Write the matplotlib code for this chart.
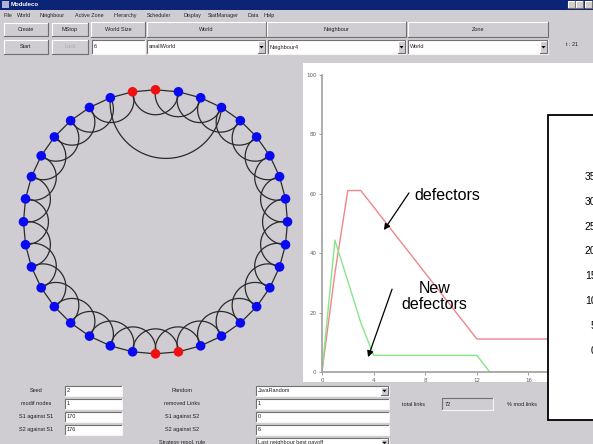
import numpy as np
import matplotlib
matplotlib.use("Agg")
import matplotlib.pyplot as plt
from matplotlib.patches import Rectangle, Polygon

# ---------------- data ----------------
time_steps = list(range(0, 22))
defectors = [0, 33.3, 61.1, 61.1, 55.6, 50.0, 44.4, 38.9, 33.3, 27.8, 22.2,
             16.7, 11.1, 11.1, 11.1, 11.1, 11.1, 11.1, 11.1, 11.1, 11.1, 11.1]
new_defectors = [0, 44.4, 30.6, 16.7, 5.6, 5.6, 5.6, 5.6, 5.6, 5.6, 5.6,
                 5.6, 5.6, 0, 0, 0, 0, 0, 0, 0, 0, 0]
x_ticks = [0, 4, 8, 12, 16, 20]
y_ticks = [0, 20, 40, 60, 80, 100]
inset_ticks = [0, 5, 10, 15, 20, 25, 30, 35]

# network: 36 nodes, index 0 at top, clockwise; D = defector (red)
node_states = "DCCCCCCCCCCCCCCCCDDCCCCCCCCCCCCCCCCD"
neighbour_range = 2
removed_links = [(34, 0)]
added_links = [(34, 3)]

menu_items = ["File", "World", "Neighbour", "Active Zone", "Hierarchy",
              "Scheduler", "Display", "StatManager", "Data", "Help"]

W, H = 593, 444
GRAY = "#cfcdd1"
fig = plt.figure(figsize=(W / 100, H / 100), dpi=100)
fig.patch.set_facecolor(GRAY)

bg = fig.add_axes([0, 0, 1, 1])
bg.set_xlim(0, W)
bg.set_ylim(H, 0)
bg.axis("off")

FONT = "Liberation Sans"
GF = 4.0  # gui font size


def rect(ax, x0, y0, x1, y1, fc, ec="none", lw=0, z=1):
    ax.add_patch(Rectangle((x0, y0), x1 - x0, y1 - y0, fc=fc, ec=ec, lw=lw, zorder=z))


def raised(x0, y0, x1, y1, fc=GRAY):
    rect(bg, x0, y0, x1, y1, fc)
    bg.plot([x0, x0, x1], [y1, y0, y0], color="white", lw=0.8, zorder=2)
    bg.plot([x0, x1, x1], [y1, y1, y0], color="#6f6f6f", lw=0.8, zorder=2)


def sunken(x0, y0, x1, y1, fc="white"):
    rect(bg, x0, y0, x1, y1, fc)
    bg.plot([x0, x0, x1], [y1, y0, y0], color="#707070", lw=0.8, zorder=2)
    bg.plot([x0, x1, x1], [y1, y1, y0], color="#f4f4f4", lw=0.8, zorder=2)


def txt(x, y, s, size=GF, ha="left", color="#202020", **kw):
    bg.text(x, y, s, fontsize=size, ha=ha, va="center", color=color, family=FONT, zorder=5, **kw)


def combo(x0, y0, x1, y1, s):
    sunken(x0, y0, x1, y1)
    raised(x1 - 8, y0 + 1, x1 - 1, y1 - 1)
    cx, cy = (x1 - 4.5), (y0 + y1) / 2
    bg.add_patch(Polygon([[cx - 2, cy - 1], [cx + 2, cy - 1], [cx, cy + 1.5]], fc="black", zorder=4))
    txt(x0 + 2, (y0 + y1) / 2, s)


# ---- title bar & menu ----
rect(bg, 0, 0, W, 10, "#0c2476")
rect(bg, 2, 1.5, 9, 8.5, "#b0b0d8")
txt(11, 5, "Moduleco", size=4.3, color="white", weight="bold")
for i in range(3):
    raised(568 + i * 8.3, 1.5, 575 + i * 8.3, 8.5, fc="#d4d0c8")
menu_x = [3, 17, 40, 75, 113, 147, 183, 208, 247, 264]
for mx, m in zip(menu_x, menu_items):
    txt(mx, 15.5, m, size=3.9)

# ---- top row ----
raised(4, 23, 48, 36)
txt(26, 29.5, "Create", ha="center")
raised(52, 23, 88, 36)
txt(70, 29.5, "MStop", ha="center")
for (a, b, s) in [(91, 145, "World Size"), (147, 266, "World"), (267, 406, "Neighbour"), (408, 548, "Zone")]:
    raised(a, 22, b, 37)
    txt((a + b) / 2, 29.5, s, ha="center")
raised(4, 40, 48, 54)
txt(26, 47, "Start", ha="center")
raised(52, 40, 88, 54)
txt(70, 47, "Lock", ha="center", color="#a8a8a8")
sunken(92, 40, 145, 54)
txt(94, 47, "6")
combo(147, 40, 266, 54, "smallWorld")
combo(268, 40, 406, 54, "Neighbour4")
combo(408, 40, 548, 54, "World")
txt(566, 45, "t : 21")

# ---- ring panel ----
rect(bg, 0, 58, 302, 382, GRAY)
cx, cy, R = 155.5, 221.8, 132.0
n = len(node_states)
ang = np.deg2rad(90 - 360.0 / n * np.arange(n))
px = cx + R * np.cos(ang)
py = cy - R * np.sin(ang)

links = []
for i in range(n):
    for d in range(1, neighbour_range + 1):
        links.append((i, (i + d) % n))
links = [l for l in links if l not in removed_links] + added_links


def draw_link(a, b):
    pa = np.array([px[a], py[a]])
    pb = np.array([px[b], py[b]])
    mid = (pa + pb) / 2
    r = np.linalg.norm(pa - pb) / 2
    u = (pa - mid) / r
    nrm = np.array([-u[1], u[0]])
    if np.dot(nrm, np.array([cx, cy]) - mid) < 0:
        nrm = -nrm
    t = np.linspace(0, np.pi, 60)
    pts = mid[None, :] + r * (np.cos(t)[:, None] * u[None, :] + np.sin(t)[:, None] * nrm[None, :])
    bg.plot(pts[:, 0], pts[:, 1], color="#2a2a2a", lw=0.9, zorder=3)


for (a, b) in links:
    if (b - a) % n == 1 or (a - b) % n == 1:
        bg.plot([px[a], px[b]], [py[a], py[b]], color="#2a2a2a", lw=0.9, zorder=3)
    else:
        draw_link(a, b)

cols = ["#f01010" if s == "D" else "#0a0af0" for s in node_states]
bg.scatter(px, py, s=48, c=cols, zorder=4, linewidths=0)

# ---- chart panel ----
rect(bg, 303, 63, W, 382, "white")

x0p, x1p, y0p, y1p = 322, 593, 372, 75
ax = fig.add_axes([x0p / W, (H - y0p) / H, (x1p - x0p) / W, (y0p - y1p) / H])
ax.patch.set_alpha(0)
ax.set_xlim(0, 21)
ax.set_ylim(0, 100)
for s in ["top", "right"]:
    ax.spines[s].set_visible(False)
for s in ["left", "bottom"]:
    ax.spines[s].set_color("#a0a0a0")
    ax.spines[s].set_linewidth(1.2)
ax.set_xticks(x_ticks)
ax.set_yticks(y_ticks)
ax.tick_params(length=2, width=0.6, color="#909090", labelsize=4, labelcolor="#606060", pad=2)
ax.plot(time_steps, defectors, color="#f0848c", lw=1.0)
ax.plot(time_steps, new_defectors, color="#84e884", lw=1.0)

ax.text(9.7, 59.3, "defectors", fontsize=11.5, family=FONT, ha="center", va="center")
ax.text(8.7, 25.5, "New\ndefectors", fontsize=11.5, family=FONT, ha="center", va="center",
        multialignment="center", linespacing=1.05)
arr = dict(arrowstyle="-|>", color="black", lw=0.9, mutation_scale=9, shrinkA=0, shrinkB=0)
ax.annotate("", xy=(4.8, 47.8), xytext=(6.74, 60.3), arrowprops=arr)
ax.annotate("", xy=(3.57, 5.0), xytext=(5.43, 27.9), arrowprops=arr)

# ---- bottom form ----
rect(bg, 0, 382, W, H, GRAY, z=0.5)
rows = [386, 399, 412, 425, 438]
left_labels = ["Seed", "modif nodes", "S1 against S1", "S2 against S1"]
left_vals = ["2", "1", "170", "176"]
for y, l, v in zip(rows, left_labels, left_vals):
    txt(36, y + 4.5, l, ha="center")
    sunken(65, y, 122, y + 9.5)
    txt(67, y + 4.5, v)
mid_labels = ["Random", "removed Links", "S1 against S2", "S2 against S2", "Strategy resol. rule"]
mid_vals = ["JavaRandom", "1", "0", "6", "Last neighbour best payoff"]
for k, (y, l, v) in enumerate(zip(rows, mid_labels, mid_vals)):
    txt(182, y + 4.5, l, ha="center")
    if k in (0, 4):
        combo(256, y, 389, y + 9.5, v)
    else:
        sunken(256, y, 389, y + 9.5)
        txt(258, y + 4.5, v)
txt(413, 404, "total links", ha="center")
sunken(442, 398, 493, 410, fc=GRAY)
txt(445, 404, "72")
txt(522, 404, "% mod.links", ha="center")

# ---- overlay box (pasted chart) ----
ov = fig.add_axes([0, 0, 1, 1])
ov.set_xlim(0, W)
ov.set_ylim(H, 0)
ov.axis("off")
ov.add_patch(Rectangle((547.5, 115), 60, 305, fc="white", ec="black", lw=1.3))

ins = fig.add_axes([600 / W, (H - 349.5) / H, 0.1, (349.5 - 176) / H])
ins.patch.set_alpha(0)
ins.set_ylim(0, 35)
ins.set_xticks([])
ins.set_yticks(inset_ticks)
ins.tick_params(length=0, pad=2.6, labelsize=7.5)
for s in ins.spines.values():
    s.set_visible(False)
for lab in ins.get_yticklabels():
    lab.set_family(FONT)

fig.savefig("out.png", dpi=100, facecolor=fig.get_facecolor())
